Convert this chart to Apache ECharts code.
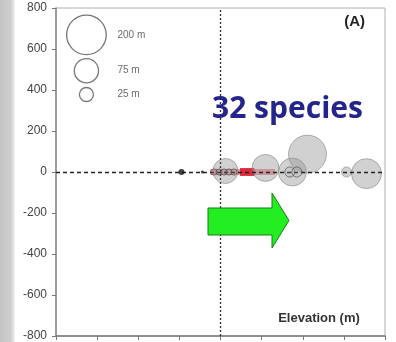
<!DOCTYPE html>
<html>
<head>
<meta charset="utf-8">
<script src="https://cdn.jsdelivr.net/npm/echarts@6/dist/echarts.min.js"></script>
<style>
  html, body { margin: 0; padding: 0; background: #fff; }
  #chart { width: 396px; height: 342px; }
</style>
</head>
<body>
<div id="chart"></div>
<script>
// Elevation shift of species (x, m) with bubble size = spread (m)
const speciesShift = [24, 219, 350, 423, 613, 710];
const speciesOffset = [5, 20, 0, 87, 0, -8];
const speciesSpread = [80, 93, 100, 184, 13, 115];

// narrow-range species drawn as small open circles on the zero line
const narrowShift = [-32, -7, 17, 41, 65, 337, 371];
const narrowSpread = [5, 5, 5, 5, 5, 13, 13];

// lowland species (filled dots)
const dotShift = [-190, -88];

// shifted range (red band) and its core
const rangeBand = [-50, 265];
const rangeCore = [95, 165];

// size key
const keySpread = [200, 75, 25];
const keyLabels = ['200 m', '75 m', '25 m'];
const keyX = -652;
const keyY = [669, 494, 378];

const yTicks = { min: -800, max: 800, step: 200 };

function bubble(v) { return 2.8 * Math.sqrt(v); }

const chart = echarts.init(document.getElementById('chart'));

chart.setOption({
  animation: false,
  grid: { left: 56, right: 11, top: 8, bottom: 4, show: true, borderColor: '#b0b0b0', borderWidth: 1 },
  xAxis: {
    type: 'value', min: -800, max: 800, interval: 200,
    axisLine: { show: true, onZero: false, lineStyle: { color: '#777', width: 1.5 } },
    axisTick: { show: true, inside: false, length: 4, lineStyle: { color: '#777' } },
    axisLabel: { show: false },
    splitLine: { show: false }
  },
  yAxis: {
    type: 'value', min: yTicks.min, max: yTicks.max, interval: yTicks.step,
    axisLine: { show: true, onZero: false, lineStyle: { color: '#888', width: 1.5 } },
    axisTick: { show: true, inside: false, length: 4, lineStyle: { color: '#777' } },
    axisLabel: { show: true, margin: 9, color: '#444', fontSize: 12, fontFamily: 'Liberation Sans, Arial, sans-serif' },
    splitLine: { show: false }
  },
  graphic: [
    {
      type: 'rect', z: 0, silent: true,
      shape: { x: 0, y: 0, width: 15, height: 342 },
      style: {
        fill: new echarts.graphic.LinearGradient(0, 0, 1, 0, [
          { offset: 0, color: '#c4c4c4' },
          { offset: 0.75, color: '#cfcfcf' },
          { offset: 1, color: '#f4f4f4' }
        ])
      }
    },
    {
      type: 'polygon', z: 10, silent: true,
      shape: { points: [[208, 208], [272, 208], [272, 193], [289, 220.5], [272, 248], [272, 235], [208, 235]] },
      style: { fill: '#22ee22', stroke: '#1d7a1d', lineWidth: 1 }
    },
    {
      type: 'text', z: 10, silent: true,
      style: { text: '32 species', x: 212, y: 109, textVerticalAlign: 'middle', fill: '#24248a',
               font: 'bold 30px "Open Sans", sans-serif' }
    },
    {
      type: 'text', z: 10, silent: true,
      style: { text: '(A)', x: 365, y: 22, textAlign: 'right', textVerticalAlign: 'middle', fill: '#222',
               font: 'bold 15px "Liberation Sans", Arial, sans-serif' }
    },
    {
      type: 'text', z: 10, silent: true,
      style: { text: 'Elevation (m)', x: 319, y: 318, textAlign: 'center', textVerticalAlign: 'middle', fill: '#333',
               font: 'bold 13px "Liberation Sans", Arial, sans-serif' }
    }
  ],
  series: [
    {
      // zero reference lines
      type: 'line', data: [], silent: true,
      markLine: {
        symbol: 'none', silent: true, label: { show: false },
        data: [
          { yAxis: 0, lineStyle: { type: [4, 3], color: '#222', width: 1.3 } },
          { xAxis: 0, lineStyle: { type: [2, 2], color: '#333', width: 1.3 } }
        ]
      },
      z: 1
    },
    {
      type: 'line', silent: true, symbol: 'none', z: 2,
      data: rangeBand.map(x => [x, 0]),
      lineStyle: { color: 'rgba(225,60,75,0.55)', width: 6 }
    },
    {
      type: 'line', silent: true, symbol: 'none', z: 3,
      data: rangeCore.map(x => [x, 0]),
      lineStyle: { color: 'rgba(215,25,45,0.85)', width: 8 }
    },
    {
      type: 'scatter', silent: true, z: 4,
      data: speciesShift.map((x, i) => [x, speciesOffset[i], speciesSpread[i]]),
      symbolSize: d => bubble(d[2]),
      itemStyle: { color: 'rgba(150,150,150,0.55)', borderColor: 'rgba(125,125,125,0.7)', borderWidth: 1 }
    },
    {
      type: 'scatter', silent: true, z: 5,
      data: narrowShift.map((x, i) => [x, 0, narrowSpread[i]]),
      symbolSize: d => bubble(d[2]),
      itemStyle: { color: 'rgba(170,170,170,0.25)', borderColor: 'rgba(60,60,60,0.75)', borderWidth: 1 }
    },
    {
      type: 'scatter', silent: true, z: 6,
      data: dotShift.map(x => [x, 0]),
      symbolSize: (d, p) => (p.dataIndex === 0 ? 6 : 3),
      itemStyle: { color: '#111' }
    },
    {
      type: 'scatter', silent: true, z: 6,
      data: keySpread.map((v, i) => [keyX, keyY[i], v]),
      symbolSize: d => bubble(d[2]),
      itemStyle: { color: '#fff', borderColor: '#555', borderWidth: 1.3 },
      label: {
        show: true, position: 'inside', align: 'left', offset: [31, 0],
        formatter: p => keyLabels[p.dataIndex],
        color: '#444', fontSize: 10, fontFamily: 'Liberation Sans, Arial, sans-serif'
      }
    }
  ]
});
</script>
</body>
</html>
